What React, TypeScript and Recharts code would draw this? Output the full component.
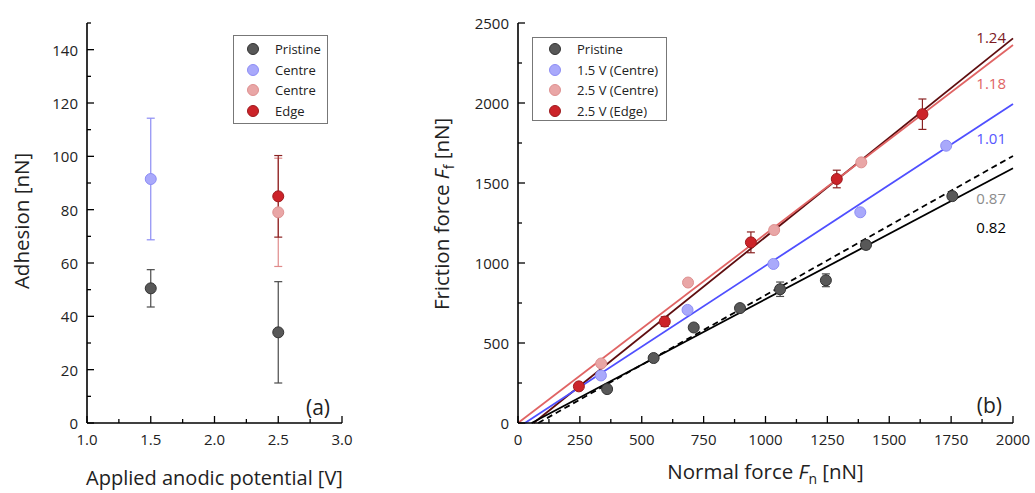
import React from "react";
import {
  ScatterChart,
  Scatter,
  XAxis,
  YAxis,
  ErrorBar,
  ReferenceLine,
  ReferenceDot,
  Legend,
} from "recharts";

const FONT = "'Open Sans', 'Noto Sans', sans-serif";

// ---- (a) adhesion vs applied potential ----
const adhPristine = [
  { x: 1.5, y: 50.5, err: 7 },
  { x: 2.5, y: 34, err: 19 },
];
const adhCentre15 = [{ x: 1.5, y: 91.5, err: 22.8 }];
const adhCentre25 = [{ x: 2.5, y: 79, err: 20.3 }];
const adhEdge = [{ x: 2.5, y: 85, err: 15.3 }];

const potentialTicks = [1, 1.25, 1.5, 1.75, 2, 2.25, 2.5, 2.75, 3];
const potentialLabels = [1, 1.5, 2, 2.5, 3];
const adhesionTicks = [0, 10, 20, 30, 40, 50, 60, 70, 80, 90, 100, 110, 120, 130, 140, 150];
const adhesionLabels = [0, 20, 40, 60, 80, 100, 120, 140];

// ---- (b) friction vs normal force ----
const friPristine = [
  { x: 360, y: 212, err: 15 },
  { x: 548, y: 406, err: 10 },
  { x: 710, y: 597, err: 10 },
  { x: 897, y: 718, err: 15 },
  { x: 1059, y: 836, err: 45 },
  { x: 1244, y: 892, err: 40 },
  { x: 1406, y: 1113, err: 25 },
  { x: 1755, y: 1418, err: 20 },
];
const fri15Centre = [
  { x: 335, y: 297, err: 0 },
  { x: 685, y: 707, err: 0 },
  { x: 1032, y: 994, err: 0 },
  { x: 1383, y: 1317, err: 15 },
  { x: 1730, y: 1733, err: 0 },
];
const fri25Centre = [
  { x: 336, y: 372, err: 0 },
  { x: 687, y: 878, err: 0 },
  { x: 1035, y: 1206, err: 0 },
  { x: 1387, y: 1629, err: 20 },
];
const fri25Edge = [
  { x: 246, y: 229, err: 0 },
  { x: 593, y: 634, err: 30 },
  { x: 941, y: 1129, err: 65 },
  { x: 1288, y: 1525, err: 55 },
  { x: 1634, y: 1930, err: 95 },
];

// fitted lines, end points
const fitEdge = [{ x: 63, y: 0 }, { x: 2000, y: 2404 }];
const fitCentre25 = [{ x: 0, y: 0 }, { x: 2000, y: 2362 }];
const fitCentre15 = [{ x: 28, y: 0 }, { x: 2000, y: 1994 }];
const fitPristineDash = [{ x: 82, y: 0 }, { x: 2000, y: 1669 }];
const fitPristine = [{ x: 55, y: 0 }, { x: 2000, y: 1592 }];

const slopeTexts = ["1.24", "1.18", "1.01", "0.87", "0.82"];
const slopeLabelY = [2412, 2125, 1781, 1406, 1225];

const normalTicks = [0, 125, 250, 375, 500, 625, 750, 875, 1000, 1125, 1250, 1375, 1500, 1625, 1750, 1875, 2000];
const normalLabels = [0, 250, 500, 750, 1000, 1250, 1500, 1750, 2000];
const frictionTicks = [0, 250, 500, 750, 1000, 1250, 1500, 1750, 2000, 2250, 2500];
const frictionLabels = [0, 500, 1000, 1500, 2000, 2500];

const C = {
  pristine: { fill: "#585858", stroke: "#333333", bar: "#4a4a4a" },
  blue: { fill: "#a9a9fb", stroke: "#8d8df5", bar: "#8c8cf4" },
  pink: { fill: "#e9a6a6", stroke: "#de9090", bar: "#e08a8a" },
  red: { fill: "#cc2329", stroke: "#9e1a1e", bar: "#8a2222" },
};
const slopeColors = ["#7d1b1f", "#e06464", "#5656ff", "#8c8c8c", "#000000"];

const dot = (c: { fill: string; stroke: string }) => (p: any) =>
  <circle cx={p.cx} cy={p.cy} r={5.5} fill={c.fill} stroke={c.stroke} strokeWidth={1} />;

type Side = "bottom" | "left" | "top" | "right";
const makeTick = (side: Side, labels: number[], fmt?: (v: number) => string) => (props: any) => {
  const { x, y, payload } = props;
  const v = payload.value;
  const major = labels.includes(v);
  const len = major ? 7 : 4;
  const st = { stroke: "#000", strokeWidth: 1.3 };
  let line;
  let text = null;
  if (side === "bottom") {
    line = <line x1={x} y1={y} x2={x} y2={y - len} {...st} />;
    if (major && fmt)
      text = (
        <text x={x} y={y + 16} textAnchor="middle" dominantBaseline="central" fontSize={15} fill="#222" fontFamily={FONT}>
          {fmt(v)}
        </text>
      );
  } else if (side === "left") {
    line = <line x1={x} y1={y} x2={x + len} y2={y} {...st} />;
    if (major && fmt)
      text = (
        <text x={x - 9} y={y} textAnchor="end" dominantBaseline="central" fontSize={15} fill="#222" fontFamily={FONT}>
          {fmt(v)}
        </text>
      );
  } else if (side === "top") {
    line = <line x1={x} y1={y} x2={x} y2={y + len} {...st} />;
  } else {
    line = <line x1={x} y1={y} x2={x - len} y2={y} {...st} />;
  }
  return (
    <g>
      {line}
      {text}
    </g>
  );
};

const axisLine = { stroke: "#000", strokeWidth: 1.6 };

type LegendItem = { name: string; fill: string; stroke: string };
const LegendBox = ({
  items,
  width,
  height,
  markerX,
  textX,
  firstRow,
}: {
  items: LegendItem[];
  width: number;
  height: number;
  markerX: number;
  textX: number;
  firstRow: number;
}) => (
  <div
    style={{
      width,
      height,
      boxSizing: "border-box",
      border: "1px solid #777",
      background: "#fff",
      position: "relative",
      fontFamily: FONT,
      fontSize: 13,
      color: "#222",
    }}
  >
    {items.map((it, i) => {
      const cy = firstRow + i * 20.7;
      return (
        <React.Fragment key={i}>
          <svg style={{ position: "absolute", left: markerX - 7, top: cy - 7 }} width={14} height={14}>
            <circle cx={7} cy={7} r={5.5} fill={it.fill} stroke={it.stroke} strokeWidth={1} />
          </svg>
          <span style={{ position: "absolute", left: textX, top: cy - 10, lineHeight: "20px", whiteSpace: "nowrap" }}>
            {it.name}
          </span>
        </React.Fragment>
      );
    })}
  </div>
);

const legendA: LegendItem[] = [
  { name: "Pristine", ...C.pristine },
  { name: "Centre", ...C.blue },
  { name: "Centre", ...C.pink },
  { name: "Edge", ...C.red },
];
const legendB: LegendItem[] = [
  { name: "Pristine", ...C.pristine },
  { name: "1.5 V (Centre)", ...C.blue },
  { name: "2.5 V (Centre)", ...C.pink },
  { name: "2.5 V (Edge)", ...C.red },
];

const panelLabel = (t: string, dx: number, dy: number) => (p: any) =>
  (
    <text
      x={p.viewBox.x - dx}
      y={p.viewBox.y - dy}
      textAnchor="end"
      dominantBaseline="central"
      fontSize={21}
      fill="#222"
      fontFamily={FONT}
    >
      {t}
    </text>
  );

function AdhesionChart() {
  return (
    <ScatterChart width={360} height={493} margin={{ top: 23, right: 18, bottom: 0, left: 0 }}>
      <XAxis
        type="number"
        dataKey="x"
        domain={[1, 3]}
        ticks={potentialTicks}
        interval={0}
        allowDataOverflow
        height={70}
        tickSize={0}
        tickMargin={0}
        axisLine={axisLine}
        tickLine={false}
        tick={makeTick("bottom", potentialLabels, (v) => v.toFixed(1))}
        label={{
          content: (p: any) => (
            <text
              x={p.viewBox.x + p.viewBox.width / 2}
              y={485}
              textAnchor="middle"
              fontSize={20}
              fill="#222"
              fontFamily={FONT}
            >
              Applied anodic potential [V]
            </text>
          ),
        }}
      />
      <XAxis
        xAxisId="top"
        orientation="top"
        type="number"
        dataKey="x"
        domain={[1, 3]}
        ticks={potentialTicks}
        interval={0}
        allowDataOverflow
        height={0}
        tickSize={0}
        tickMargin={0}
        axisLine={axisLine}
        tickLine={false}
        tick={makeTick("top", potentialLabels)}
      />
      <YAxis
        type="number"
        dataKey="y"
        domain={[0, 150]}
        ticks={adhesionTicks}
        interval={0}
        allowDataOverflow
        width={87}
        tickSize={0}
        tickMargin={0}
        axisLine={axisLine}
        tickLine={false}
        tick={makeTick("left", adhesionLabels, (v) => String(v))}
        label={{
          content: () => (
            <text
              x={28.5}
              y={221}
              transform="rotate(-90 28.5 221)"
              textAnchor="middle"
              fontSize={20.5}
              fill="#222"
              fontFamily={FONT}
            >
              Adhesion [nN]
            </text>
          ),
        }}
      />
      <YAxis
        yAxisId="right"
        orientation="right"
        type="number"
        dataKey="y"
        domain={[0, 150]}
        ticks={adhesionTicks}
        interval={0}
        allowDataOverflow
        width={0}
        tickSize={0}
        tickMargin={0}
        axisLine={axisLine}
        tickLine={false}
        tick={makeTick("right", adhesionLabels)}
      />
      <Legend
        layout="vertical"
        align="center"
        verticalAlign="middle"
        wrapperStyle={{ position: "absolute", left: 233, top: 35, width: 95, height: 89 }}
        content={() => <LegendBox items={legendA} width={95} height={89} markerX={18.7} textX={41} firstRow={13} />}
      />
      <Scatter name="Pristine" data={adhPristine} shape={dot(C.pristine)} isAnimationActive={false}>
        <ErrorBar dataKey="err" direction="y" width={4} stroke={C.pristine.bar} strokeWidth={1.2} />
      </Scatter>
      <Scatter name="Centre" data={adhCentre15} shape={dot(C.blue)} isAnimationActive={false}>
        <ErrorBar dataKey="err" direction="y" width={4} stroke={C.blue.bar} strokeWidth={1.2} />
      </Scatter>
      <Scatter name="Centre 2.5" data={adhCentre25} shape={dot(C.pink)} isAnimationActive={false}>
        <ErrorBar dataKey="err" direction="y" width={4} stroke={C.pink.bar} strokeWidth={1.2} />
      </Scatter>
      <Scatter name="Edge" data={adhEdge} shape={dot(C.red)} isAnimationActive={false}>
        <ErrorBar dataKey="err" direction="y" width={4} stroke={C.red.bar} strokeWidth={1.2} />
      </Scatter>
      <ReferenceDot x={3} y={0} r={0} fill="none" stroke="none" label={{ content: panelLabel("(a)", 12, 16) }} />
    </ScatterChart>
  );
}

function FrictionChart() {
  const fits = [fitEdge, fitCentre25, fitCentre15, fitPristineDash, fitPristine];
  const fitStyles = [
    { stroke: "#5e0d0f" },
    { stroke: "#e06464" },
    { stroke: "#4f4fff" },
    { stroke: "#000", strokeDasharray: "6 4" },
    { stroke: "#000" },
  ];
  return (
    <ScatterChart width={615} height={493} margin={{ top: 23, right: 22, bottom: 0, left: 0 }}>
      <XAxis
        type="number"
        dataKey="x"
        domain={[0, 2000]}
        ticks={normalTicks}
        interval={0}
        allowDataOverflow
        height={70}
        tickSize={0}
        tickMargin={0}
        axisLine={axisLine}
        tickLine={false}
        tick={makeTick("bottom", normalLabels, (v) => String(v))}
        label={{
          content: (p: any) => (
            <text
              x={p.viewBox.x + p.viewBox.width / 2}
              y={479}
              textAnchor="middle"
              fontSize={20.5}
              fill="#222"
              fontFamily={FONT}
            >
              Normal force <tspan fontStyle="italic">F</tspan>
              <tspan fontSize={14} dy={5}>n</tspan>
              <tspan dy={-5}> [nN]</tspan>
            </text>
          ),
        }}
      />
      <XAxis
        xAxisId="top"
        orientation="top"
        type="number"
        dataKey="x"
        domain={[0, 2000]}
        ticks={normalTicks}
        interval={0}
        allowDataOverflow
        height={0}
        tickSize={0}
        tickMargin={0}
        axisLine={axisLine}
        tickLine={false}
        tick={makeTick("top", normalLabels)}
      />
      <YAxis
        type="number"
        dataKey="y"
        domain={[0, 2500]}
        ticks={frictionTicks}
        interval={0}
        allowDataOverflow
        width={98}
        tickSize={0}
        tickMargin={0}
        axisLine={axisLine}
        tickLine={false}
        tick={makeTick("left", frictionLabels, (v) => String(v))}
        label={{
          content: () => (
            <text
              x={29}
              y={214}
              transform="rotate(-90 29 214)"
              textAnchor="middle"
              fontSize={20.5}
              fill="#222"
              fontFamily={FONT}
            >
              Friction force <tspan fontStyle="italic">F</tspan>
              <tspan fontSize={14} dy={5}>f</tspan>
              <tspan dy={-5}> [nN]</tspan>
            </text>
          ),
        }}
      />
      <YAxis
        yAxisId="right"
        orientation="right"
        type="number"
        dataKey="y"
        domain={[0, 2500]}
        ticks={frictionTicks}
        interval={0}
        allowDataOverflow
        width={0}
        tickSize={0}
        tickMargin={0}
        axisLine={axisLine}
        tickLine={false}
        tick={makeTick("right", frictionLabels)}
      />
      <Legend
        layout="vertical"
        align="center"
        verticalAlign="middle"
        wrapperStyle={{ position: "absolute", left: 112, top: 37, width: 135, height: 84 }}
        content={() => <LegendBox items={legendB} width={135} height={84} markerX={22} textX={44} firstRow={11} />}
      />
      <Scatter name="Pristine" data={friPristine} shape={dot(C.pristine)} isAnimationActive={false}>
        <ErrorBar dataKey="err" direction="y" width={4} stroke={C.pristine.bar} strokeWidth={1.2} />
      </Scatter>
      <Scatter name="1.5 V (Centre)" data={fri15Centre} shape={dot(C.blue)} isAnimationActive={false}>
        <ErrorBar dataKey="err" direction="y" width={4} stroke={C.blue.bar} strokeWidth={1.2} />
      </Scatter>
      <Scatter name="2.5 V (Centre)" data={fri25Centre} shape={dot(C.pink)} isAnimationActive={false}>
        <ErrorBar dataKey="err" direction="y" width={4} stroke={C.pink.bar} strokeWidth={1.2} />
      </Scatter>
      <Scatter name="2.5 V (Edge)" data={fri25Edge} shape={dot(C.red)} isAnimationActive={false}>
        <ErrorBar dataKey="err" direction="y" width={4} stroke={C.red.bar} strokeWidth={1.2} />
      </Scatter>
      {fits.map((seg, i) => (
        <ReferenceLine
          key={i}
          segment={[seg[0], seg[1]]}
          strokeWidth={1.8}
          ifOverflow="visible"
          {...fitStyles[i]}
        />
      ))}
      {slopeTexts.map((t, i) => (
        <ReferenceDot
          key={t}
          x={2000}
          y={slopeLabelY[i]}
          r={0}
          fill="none"
          stroke="none"
          label={{
            content: (p: any) => (
              <text
                x={p.viewBox.x - 7}
                y={p.viewBox.y}
                textAnchor="end"
                dominantBaseline="central"
                fontSize={15}
                fill={slopeColors[i]}
                fontFamily={FONT}
              >
                {t}
              </text>
            ),
          }}
        />
      ))}
      <ReferenceDot x={2000} y={0} r={0} fill="none" stroke="none" label={{ content: panelLabel("(b)", 11, 18) }} />
    </ScatterChart>
  );
}

export default function App() {
  return (
    <div
      style={{
        position: "fixed",
        left: 0,
        top: 0,
        width: 1035,
        height: 493,
        background: "#fff",
        overflow: "hidden",
      }}
    >
      <div style={{ position: "absolute", left: 0, top: 0 }}>
        <AdhesionChart />
      </div>
      <div style={{ position: "absolute", left: 420, top: 0 }}>
        <FrictionChart />
      </div>
    </div>
  );
}
